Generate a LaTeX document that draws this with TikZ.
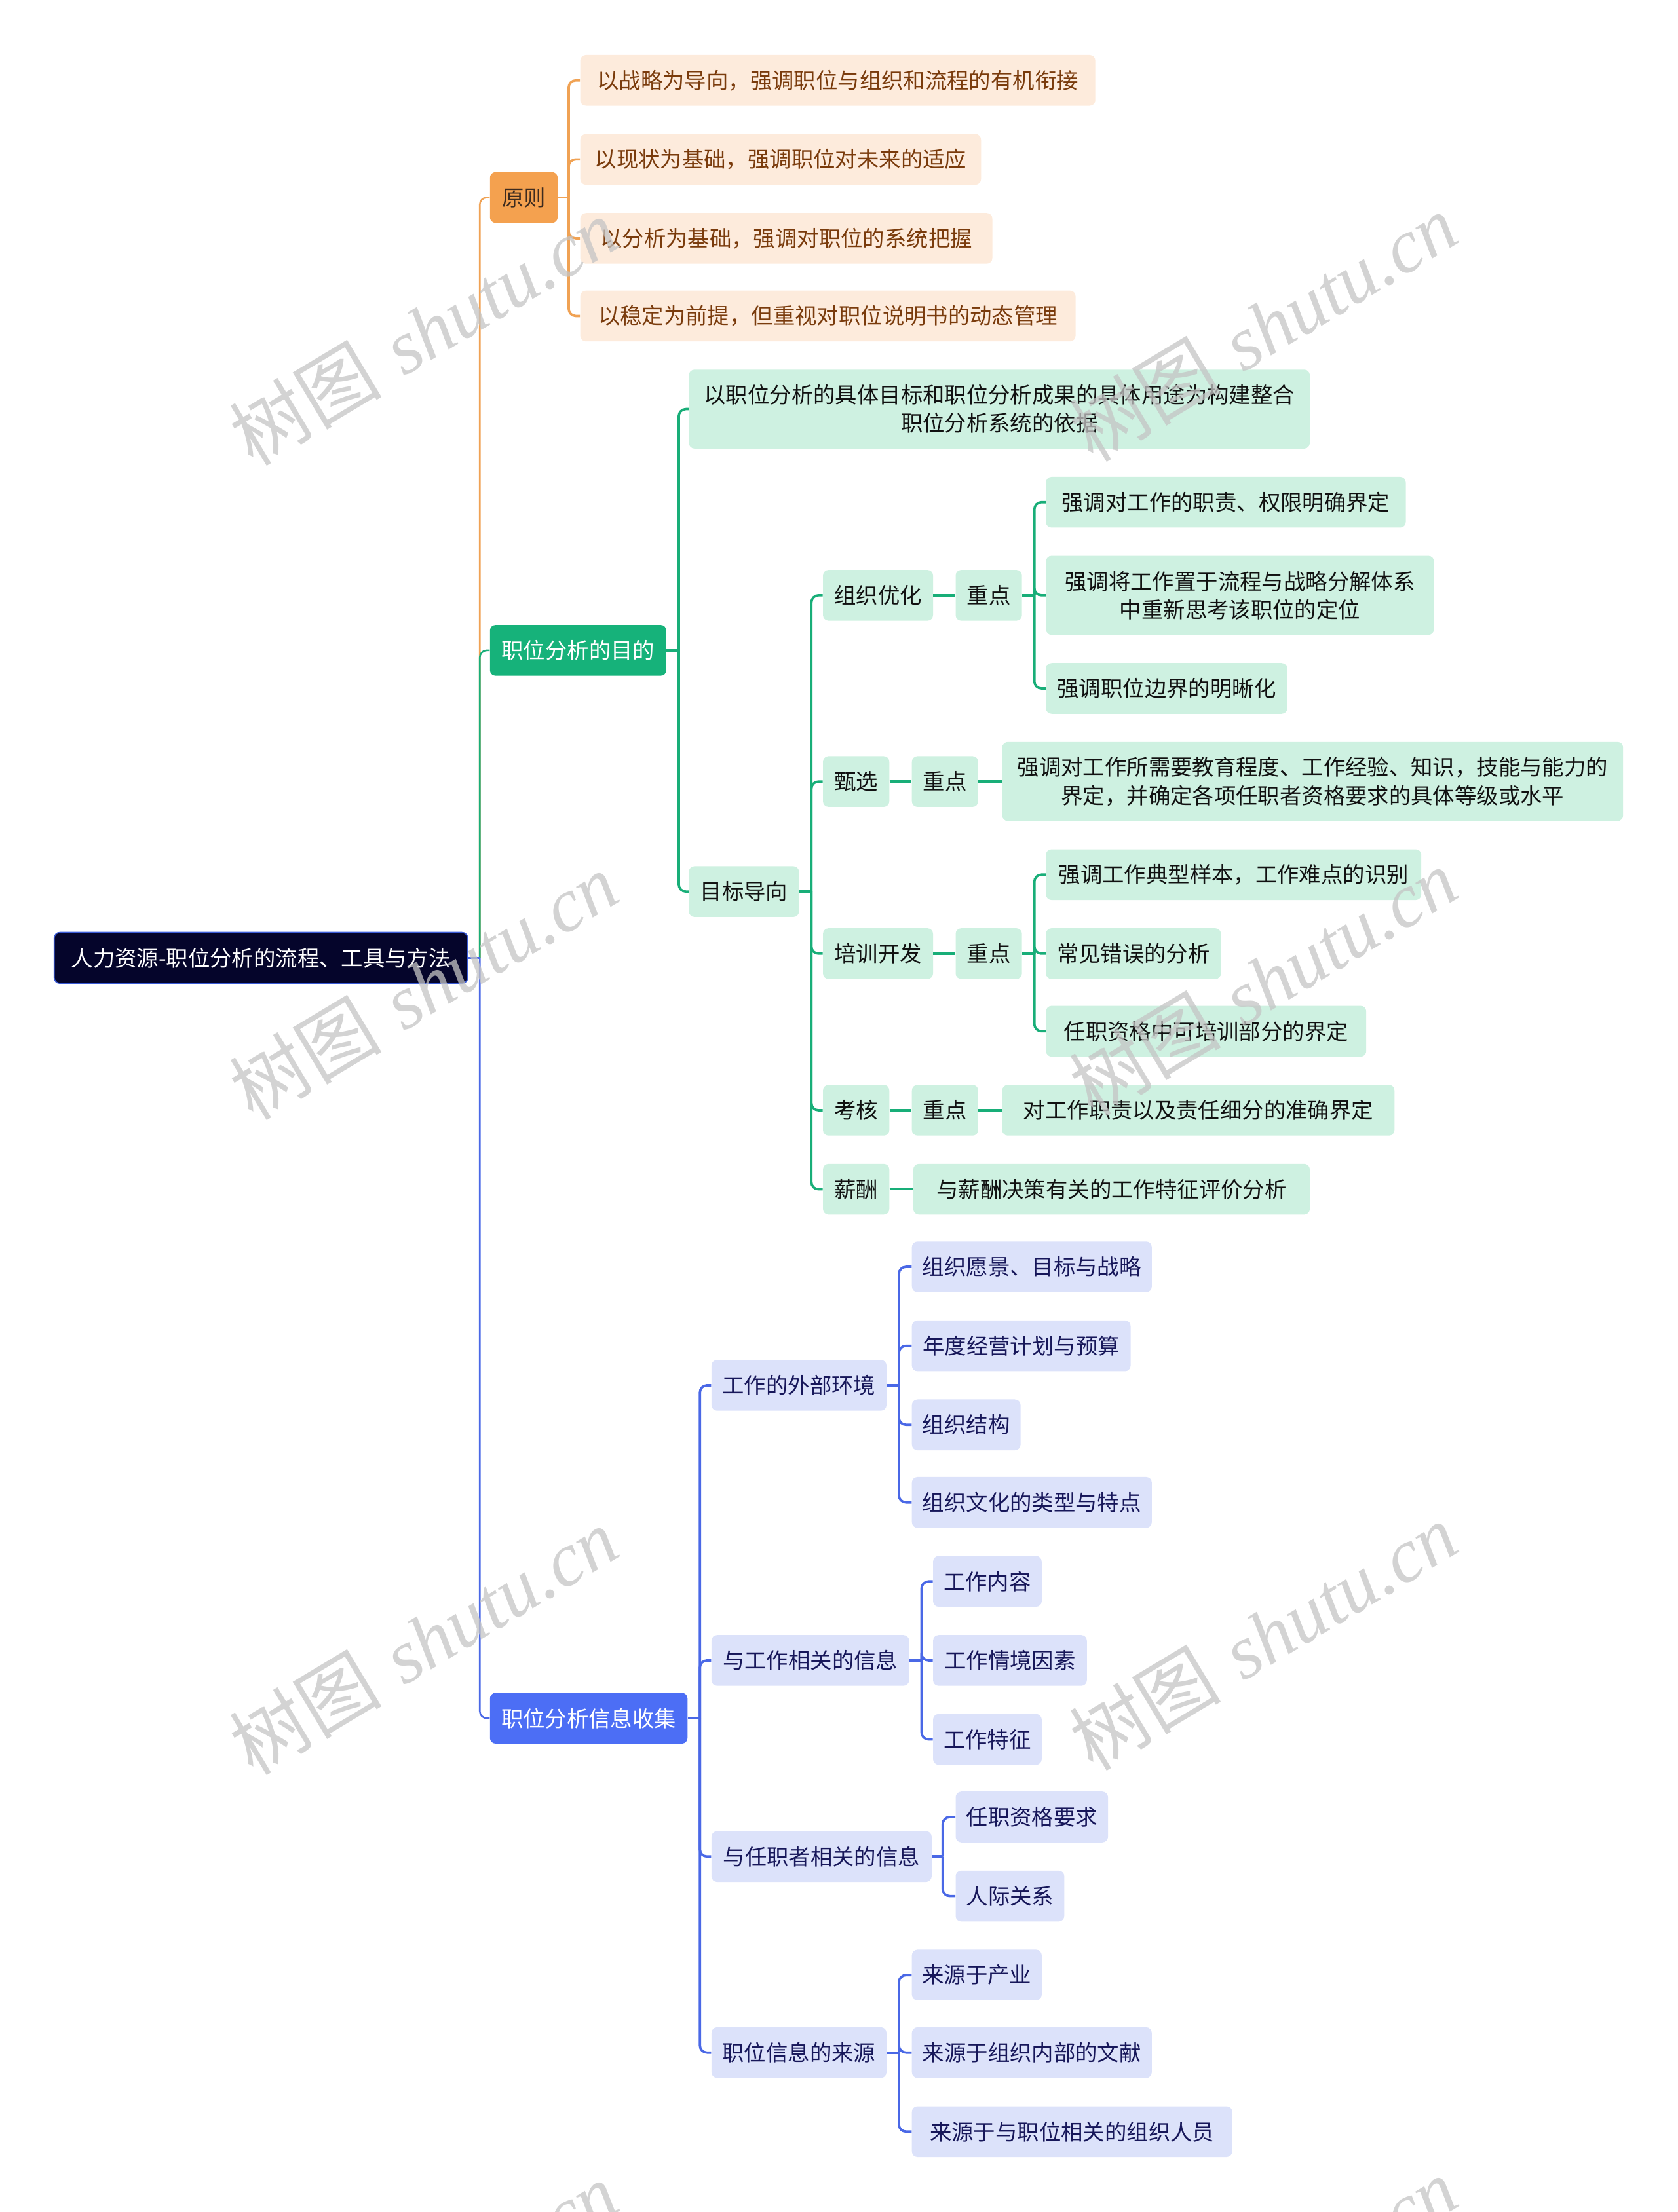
\documentclass[tikz,border=0pt]{standalone}
\usepackage{fontspec}
\newfontfamily\cjk{Noto Sans CJK SC}
\newfontfamily\wmserif{Liberation Serif}
\usetikzlibrary{calc}
\definecolor{orgM}{HTML}{F4A14F}
\definecolor{orgL}{HTML}{F0A254}
\definecolor{orgC}{HTML}{FDEBDC}
\definecolor{orgT}{HTML}{7A3B0C}
\definecolor{orgD}{HTML}{3D2B1F}
\definecolor{grnM}{HTML}{16B27A}
\definecolor{grnL}{HTML}{18AE78}
\definecolor{grnC}{HTML}{CEF1E1}
\definecolor{grnT}{HTML}{111111}
\definecolor{bluM}{HTML}{4C6EF5}
\definecolor{bluL}{HTML}{4A68E6}
\definecolor{bluC}{HTML}{DCE2FA}
\definecolor{bluT}{HTML}{17175A}
\definecolor{rootF}{HTML}{05052B}
\definecolor{rootB}{HTML}{3A5BD6}
\definecolor{wm}{HTML}{C4C4C4}
\begin{document}
\begin{tikzpicture}[x=1pt,y=-1pt,
  box/.style={anchor=west, rounded corners=4pt, inner xsep=0pt, inner ysep=0pt,
    minimum height=36pt, align=center, font=\cjk\fontsize{15.5}{20}\selectfont},
  wd/.style={minimum width=#1pt},
  two/.style={minimum height=56pt},
  rootbox/.style={box, fill=rootF, draw=rootB, line width=0.8pt, text=white},
  omain/.style={box, fill=orgM, text=orgD},
  oleaf/.style={box, fill=orgC, text=orgT},
  gmain/.style={box, fill=grnM, text=white},
  gleaf/.style={box, fill=grnC, text=grnT},
  bmain/.style={box, fill=bluM, text=white},
  bleaf/.style={box, fill=bluC, text=bluT},
  tline/.style={line width=1.2pt, rounded corners=5pt},
  sline/.style={line width=1.7pt, rounded corners=5pt},
  wmk/.style={text=wm, text opacity=0.75, rotate=31, font=\fontsize{54}{60}\selectfont, inner sep=0pt}
]
\path[use as bounding box] (0,0) rectangle (1189,1568);
\clip (0,0) rectangle (1189,1568);

% ---------- nodes ----------
\node[rootbox, wd=293] (root) at (38,679) {人力资源-职位分析的流程、工具与方法};

\node[omain, wd=48] (P) at (347,140) {原则};
\node[gmain, wd=125] (M) at (347,461) {职位分析的目的};
\node[bmain, wd=140] (C) at (347,1218) {职位分析信息收集};

\node[oleaf, wd=365] (p1) at (411,57) {以战略为导向，强调职位与组织和流程的有机衔接};
\node[oleaf, wd=284] (p2) at (411,113) {以现状为基础，强调职位对未来的适应};
\node[oleaf, wd=292] (p3) at (411,169) {以分析为基础，强调对职位的系统把握};
\node[oleaf, wd=351] (p4) at (411,224) {以稳定为前提，但重视对职位说明书的动态管理};

\node[gleaf, wd=440, two] (m1) at (488,290) {以职位分析的具体目标和职位分析成果的具体用途为构建整合\\职位分析系统的依据};
\node[gleaf, wd=78] (m2) at (488,632) {目标导向};

\node[gleaf, wd=78] (a1) at (583,422) {组织优化};
\node[gleaf, wd=47] (a2) at (583,554) {甄选};
\node[gleaf, wd=78] (a3) at (583,676) {培训开发};
\node[gleaf, wd=47] (a4) at (583,787) {考核};
\node[gleaf, wd=47] (a5) at (583,843) {薪酬};

\node[gleaf, wd=47] (k1) at (677,422) {重点};
\node[gleaf, wd=255] (k1a) at (741,356) {强调对工作的职责、权限明确界定};
\node[gleaf, wd=275, two] (k1b) at (741,422) {强调将工作置于流程与战略分解体系\\中重新思考该职位的定位};
\node[gleaf, wd=171] (k1c) at (741,488) {强调职位边界的明晰化};

\node[gleaf, wd=47] (k2) at (646,554) {重点};
\node[gleaf, wd=440, two] (k2a) at (710,554) {强调对工作所需要教育程度、工作经验、知识，技能与能力的\\界定，并确定各项任职者资格要求的具体等级或水平};

\node[gleaf, wd=47] (k3) at (677,676) {重点};
\node[gleaf, wd=266] (k3a) at (741,620) {强调工作典型样本，工作难点的识别};
\node[gleaf, wd=124] (k3b) at (741,676) {常见错误的分析};
\node[gleaf, wd=227] (k3c) at (741,731) {任职资格中可培训部分的界定};

\node[gleaf, wd=47] (k4) at (646,787) {重点};
\node[gleaf, wd=278] (k4a) at (710,787) {对工作职责以及责任细分的准确界定};

\node[gleaf, wd=281] (a5a) at (647,843) {与薪酬决策有关的工作特征评价分析};

\node[bleaf, wd=124] (c1) at (504,982) {工作的外部环境};
\node[bleaf, wd=140] (c2) at (504,1177) {与工作相关的信息};
\node[bleaf, wd=156] (c3) at (504,1316) {与任职者相关的信息};
\node[bleaf, wd=124] (c4) at (504,1455) {职位信息的来源};

\node[bleaf, wd=170] (c1a) at (646,898) {组织愿景、目标与战略};
\node[bleaf, wd=155] (c1b) at (646,954) {年度经营计划与预算};
\node[bleaf, wd=77] (c1c) at (646,1010) {组织结构};
\node[bleaf, wd=170] (c1d) at (646,1065) {组织文化的类型与特点};

\node[bleaf, wd=77] (c2a) at (661,1121) {工作内容};
\node[bleaf, wd=109] (c2b) at (661,1177) {工作情境因素};
\node[bleaf, wd=77] (c2c) at (661,1233) {工作特征};

\node[bleaf, wd=108] (c3a) at (677,1288) {任职资格要求};
\node[bleaf, wd=77] (c3b) at (677,1344) {人际关系};

\node[bleaf, wd=92] (c4a) at (646,1400) {来源于产业};
\node[bleaf, wd=170] (c4b) at (646,1455) {来源于组织内部的文献};
\node[bleaf, wd=227] (c4c) at (646,1511) {来源于与职位相关的组织人员};

% ---------- bus coordinates ----------
\coordinate (rb) at (340,679);
\coordinate (Pb) at (403,140);
\coordinate (Mb) at (481,461);
\coordinate (m2b) at (575,632);
\coordinate (k1b0) at (733,422);
\coordinate (k3b0) at (733,676);
\coordinate (Cb) at (496,1218);
\coordinate (c1b0) at (637,982);
\coordinate (c2b0) at (653,1177);
\coordinate (c3b0) at (668,1316);
\coordinate (c4b0) at (637,1455);

% ---------- connectors ----------
\draw[tline, orgL] (rb) |- (P.west);
\draw[tline, grnL] (rb) |- (M.west);
\draw[tline, bluL] (rb) |- (C.west);
\draw[tline, bluL] (root.east) -- (rb);

\draw[sline, orgL] (P.east) -- (Pb);
\foreach \n in {p1,p2,p3,p4} \draw[sline, orgL] (Pb) |- (\n.west);

\draw[sline, grnL] (M.east) -- (Mb);
\foreach \n in {m1,m2} \draw[sline, grnL] (Mb) |- (\n.west);

\draw[sline, grnL] (m2.east) -- (m2b);
\foreach \n in {a1,a2,a3,a4,a5} \draw[sline, grnL] (m2b) |- (\n.west);

\draw[sline, grnL] (a1.east) -- (k1.west);
\draw[sline, grnL] (k1.east) -- (k1b0);
\foreach \n in {k1a,k1b,k1c} \draw[sline, grnL] (k1b0) |- (\n.west);

\draw[sline, grnL] (a2.east) -- (k2.west);
\draw[sline, grnL] (k2.east) -- (k2a.west);

\draw[sline, grnL] (a3.east) -- (k3.west);
\draw[sline, grnL] (k3.east) -- (k3b0);
\foreach \n in {k3a,k3b,k3c} \draw[sline, grnL] (k3b0) |- (\n.west);

\draw[sline, grnL] (a4.east) -- (k4.west);
\draw[sline, grnL] (k4.east) -- (k4a.west);

\draw[sline, grnL] (a5.east) -- (a5a.west);

\draw[sline, bluL] (C.east) -- (Cb);
\foreach \n in {c1,c2,c3,c4} \draw[sline, bluL] (Cb) |- (\n.west);

\draw[sline, bluL] (c1.east) -- (c1b0);
\foreach \n in {c1a,c1b,c1c,c1d} \draw[sline, bluL] (c1b0) |- (\n.west);
\draw[sline, bluL] (c2.east) -- (c2b0);
\foreach \n in {c2a,c2b,c2c} \draw[sline, bluL] (c2b0) |- (\n.west);
\draw[sline, bluL] (c3.east) -- (c3b0);
\foreach \n in {c3a,c3b} \draw[sline, bluL] (c3b0) |- (\n.west);
\draw[sline, bluL] (c4.east) -- (c4b0);
\foreach \n in {c4a,c4b,c4c} \draw[sline, bluL] (c4b0) |- (\n.west);

% ---------- watermarks ----------
\foreach \yy [count=\i] in {235,699,1163,1627} {
  \node[wmk] (wa\i) at (300,\yy) {{\cjk 树图} {\wmserif\itshape shutu.cn}};
  \node[wmk] (wb\i) at (895,\yy-3) {{\cjk 树图} {\wmserif\itshape shutu.cn}};
}
\end{tikzpicture}
\end{document}
